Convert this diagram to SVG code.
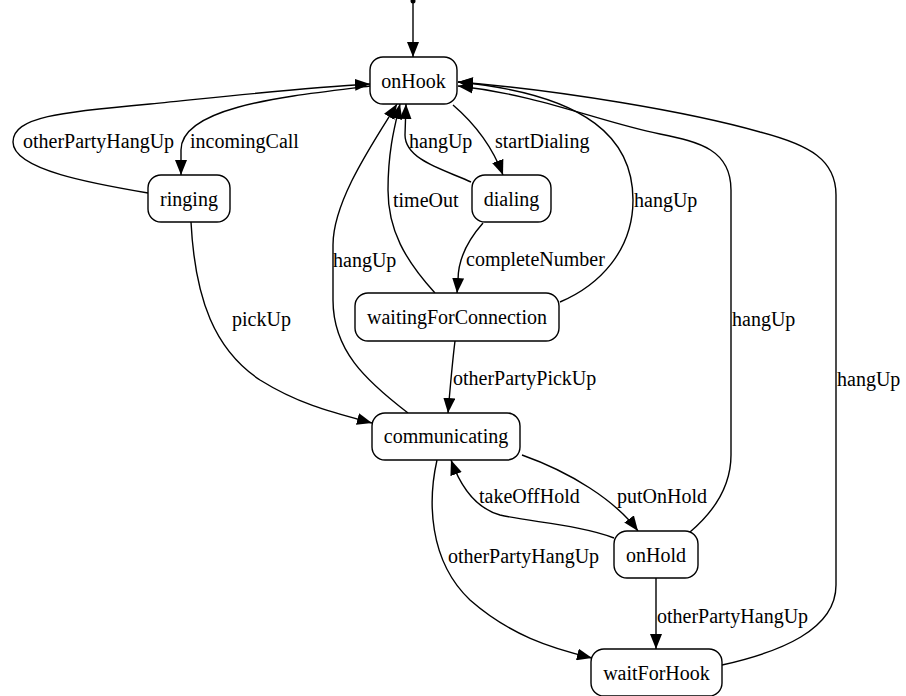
<svg xmlns="http://www.w3.org/2000/svg" width="906" height="696" viewBox="0 0 906 696">
<style>
  .node rect { fill: #fff; stroke: #000; stroke-width: 1.4; }
  text { font-family: "Liberation Serif", "Times New Roman", Times, "DejaVu Serif", serif; font-size: 20px; fill: #000; }
  .node text { text-anchor: middle; }
  .edge path { fill: none; stroke: #000; stroke-width: 1.4; marker-end: url(#arr); }
</style>
<defs>
  <marker id="arr" markerUnits="userSpaceOnUse" markerWidth="16" markerHeight="12" refX="15" refY="6" orient="auto">
    <path d="M0,0 L15,6 L0,12 z" fill="#000"/>
  </marker>
</defs>
<rect width="906" height="696" fill="#fff"/>
<g id="connectors">
  <g class="edge" id="e-init"><circle cx="413" cy="1" r="2.5" fill="#000"/><path d="M413,1 L413,57"/></g>
  <g class="edge" id="e-incomingCall"><path d="M370,86 C290,96 181,106 181,150 L181,175"/><text class="lbl" x="190" y="147.5">incomingCall</text></g>
  <g class="edge" id="e-ringing-onHook"><path d="M148,193 C95,184 13,170 13,142 C13,117 60,112 150,104 C230,96 300,88 370,84"/><text class="lbl" x="23" y="147.5">otherPartyHangUp</text></g>
  <g class="edge" id="e-startDialing"><path d="M453,105 Q488,135 503,175"/><text class="lbl" x="495" y="147.5">startDialing</text></g>
  <g class="edge" id="e-dialing-hangUp"><path d="M471,182 C445,170 405,160 405,135 L406,104"/><text class="lbl" x="409" y="147.5">hangUp</text></g>
  <g class="edge" id="e-completeNumber"><path d="M483,223 C468,240 458,258 458,280 L457,293"/><text class="lbl" x="466" y="265.5">completeNumber</text></g>
  <g class="edge" id="e-timeOut"><path d="M435,293 C405,260 388,230 388,190 C388,150 395,125 400,104"/><text class="lbl" x="393" y="206.5">timeOut</text></g>
  <g class="edge" id="e-comm-hangUp"><path d="M408,413 C365,380 333,350 333,300 L333,245 C333,200 375,140 397,104"/><text class="lbl" x="333" y="266.5">hangUp</text></g>
  <g class="edge" id="e-wfc-hangUp"><path d="M560,302 C600,285 633,250 633,200 C633,140 590,95 458,82"/><text class="lbl" x="634" y="206.5">hangUp</text></g>
  <g class="edge" id="e-onHold-hangUp"><path d="M690,532 C710,515 731,490 731,455 L731,190 C731,150 700,142 660,134 C600,122 540,95 458,86"/><text class="lbl" x="732" y="325.5">hangUp</text></g>
  <g class="edge" id="e-wfh-hangUp"><path d="M722,665 C780,652 836,630 836,585 L836,195 C836,160 810,145 760,132 C690,112 560,90 458,82"/><text class="lbl" x="837" y="385.5">hangUp</text></g>
  <g class="edge" id="e-otherPartyPickUp"><path d="M455,341 C452,365 450,390 448,413"/><text class="lbl" x="453" y="384.5">otherPartyPickUp</text></g>
  <g class="edge" id="e-pickUp"><path d="M191,222 C195,300 215,350 260,380 C300,405 335,413 372,423"/><text class="lbl" x="232" y="325.5">pickUp</text></g>
  <g class="edge" id="e-putOnHold"><path d="M522,455 C570,472 615,500 638,531"/><text class="lbl" x="617" y="502.5">putOnHold</text></g>
  <g class="edge" id="e-takeOffHold"><path d="M614,538 C580,525 530,522 500,515 C475,508 460,485 451,460"/><text class="lbl" x="479" y="502.5">takeOffHold</text></g>
  <g class="edge" id="e-comm-wfh"><path d="M437,460 C428,500 428,560 470,600 C510,635 550,648 592,658"/><text class="lbl" x="448" y="562.5">otherPartyHangUp</text></g>
  <g class="edge" id="e-onHold-wfh"><path d="M656,578 L656,649"/><text class="lbl" x="657" y="622.5">otherPartyHangUp</text></g>
</g>
<g class="node" id="onHook"><rect x="370" y="57" width="87" height="47" rx="13"/><text x="413.5" y="88">onHook</text></g>
<g class="node" id="ringing"><rect x="148" y="175" width="82" height="47" rx="13"/><text x="189" y="205.5">ringing</text></g>
<g class="node" id="dialing"><rect x="472" y="175" width="79" height="47" rx="13"/><text x="511.5" y="205.5">dialing</text></g>
<g class="node" id="waitingForConnection"><rect x="355" y="293" width="204" height="48" rx="13"/><text x="457" y="324">waitingForConnection</text></g>
<g class="node" id="communicating"><rect x="372" y="413" width="148" height="47" rx="13"/><text x="446" y="443">communicating</text></g>
<g class="node" id="onHold"><rect x="614" y="531" width="84" height="47" rx="13"/><text x="656" y="562">onHold</text></g>
<g class="node" id="waitForHook"><rect x="591" y="649" width="131" height="47" rx="13"/><text x="656.5" y="680">waitForHook</text></g>
</svg>
